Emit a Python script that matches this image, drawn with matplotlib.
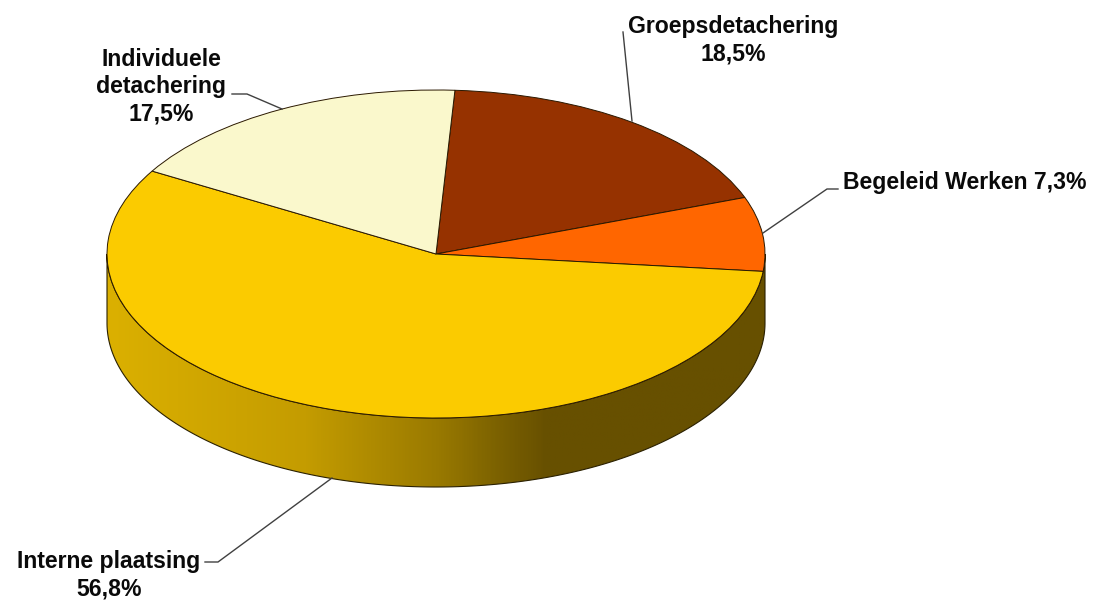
import numpy as np
import matplotlib
matplotlib.use("Agg")
import matplotlib.pyplot as plt
from matplotlib.colors import LinearSegmentedColormap
from matplotlib.path import Path
from matplotlib.patches import PathPatch

categories = ["Groepsdetachering", "Begeleid Werken", "Interne plaatsing", "Individuele detachering"]
values = [18.5, 7.3, 56.8, 17.5]
colors = ["#963200", "#FF6600", "#FBCB00", "#FAF8CC"]
labels = ["Groepsdetachering\n18,5%", "Begeleid Werken 7,3%", "Interne plaatsing\n56,8%", "Individuele\ndetachering\n17,5%"]

W, H = 1104, 601
CX, CY, RX, RY, DEPTH = 436, 254, 329, 164, 69

plt.rcParams["font.family"] = ["Liberation Sans", "DejaVu Sans"]
fig = plt.figure(figsize=(W / 100, H / 100), dpi=100, facecolor="white")

# pixel-coordinate base axes
ax = fig.add_axes([0, 0, 1, 1])
ax.set_xlim(0, W)
ax.set_ylim(H, 0)
ax.axis("off")

# side wall of the disc with horizontal gradient
t = np.linspace(np.pi, 0, 300)
xs = CX + RX * np.cos(t)
ys = CY + RY * np.sin(t)
verts = np.vstack([
    np.column_stack([xs, ys]),
    np.column_stack([xs[::-1], ys[::-1] + DEPTH]),
    [[xs[0], ys[0]]],
])
codes = [Path.MOVETO] + [Path.LINETO] * (len(verts) - 2) + [Path.CLOSEPOLY]
side = PathPatch(Path(verts, codes), facecolor="none", edgecolor="#2A2000", lw=0.8, zorder=3)
ax.add_patch(side)
cmap = LinearSegmentedColormap.from_list("side", [
    (0.00, "#DBB000"), (0.30, "#C49C00"), (0.50, "#9A7A00"),
    (0.60, "#7A6000"), (0.67, "#675000"), (1.00, "#675000"),
])
img = ax.imshow(np.linspace(0, 1, 400)[None, :], cmap=cmap, aspect="auto",
                extent=[CX - RX, CX + RX, CY + RY + DEPTH, CY], zorder=2)
img.set_clip_path(PathPatch(Path(verts, codes), transform=ax.transData))
ax.set_xlim(0, W)
ax.set_ylim(H, 0)

# top face: a pie in a stretched axes
pie_ax = fig.add_axes([(CX - RX) / W, 1 - (CY + RY) / H, 2 * RX / W, 2 * RY / H], zorder=5)
pie_ax.patch.set_alpha(0)
pie_ax.pie(values, colors=colors, startangle=86.7, counterclock=False, radius=1,
           wedgeprops=dict(edgecolor="#2A1800", linewidth=0.7))
pie_ax.set_aspect("auto")
pie_ax.set_xlim(-1, 1)
pie_ax.set_ylim(-1, 1)
pie_ax.axis("off")

# leader lines and labels
ov = fig.add_axes([0, 0, 1, 1], zorder=6)
ov.set_xlim(0, W)
ov.set_ylim(H, 0)
ov.axis("off")
ov.patch.set_alpha(0)
leaders = [
    ([623, 632], [32, 121]),
    ([763, 827, 838], [233, 189, 189]),
    ([205, 218, 332], [562, 562, 478]),
    ([232, 247, 282], [94, 94, 109]),
]
for lx, ly in leaders:
    ov.plot(lx, ly, color="#404040", lw=1.0, solid_joinstyle="miter")
label_pos = [(733, 40, "center"), (843, 183, "left"), (109, 575, "center"), (161, 87, "center")]
for txt, (x, y, ha) in zip(labels, label_pos):
    ov.text(x, y, txt, ha=ha, va="center", fontsize=16.6, fontweight="bold",
            color="#0A0A0A", linespacing=1.25, multialignment="center")

fig.savefig("out.png", dpi=100, facecolor="white")
